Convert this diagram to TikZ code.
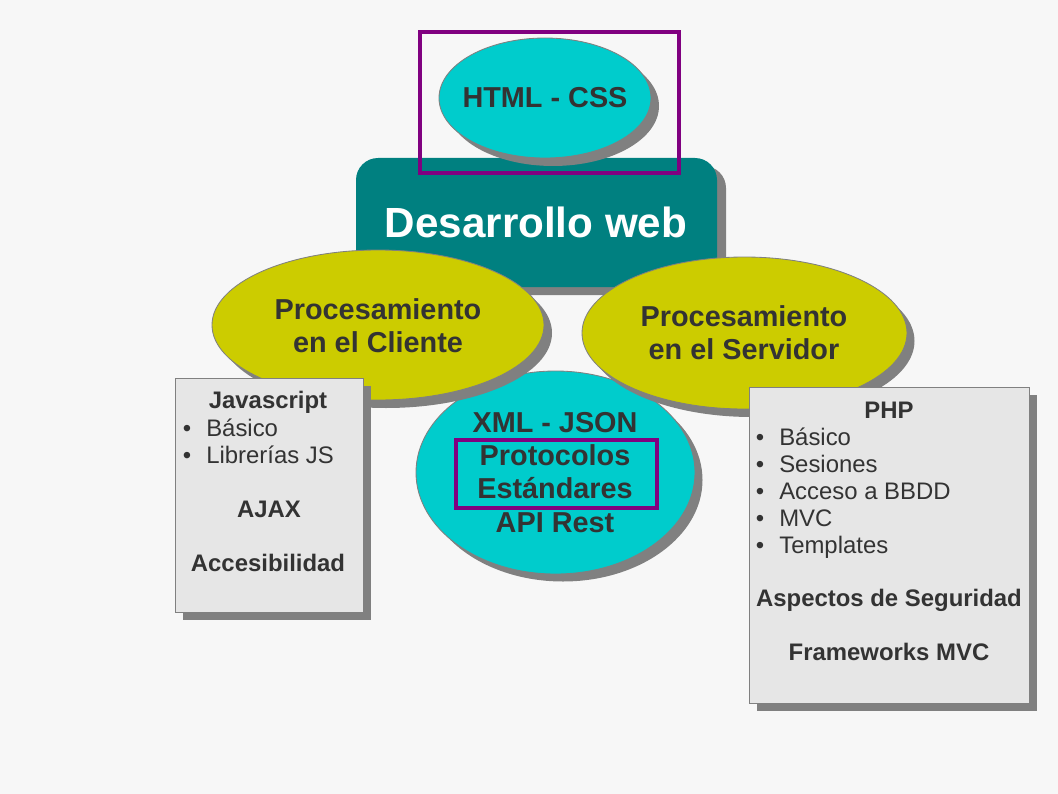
\documentclass[tikz,border=0pt]{standalone}
\usepackage{fontspec}
\setmainfont{Liberation Sans}
\usetikzlibrary{positioning}
\definecolor{wbback}{HTML}{F7F7F7}
\definecolor{wbcyan}{HTML}{00CCCC}
\definecolor{wbteal}{HTML}{008080}
\definecolor{wbolive}{HTML}{CCCC00}
\definecolor{wbbox}{HTML}{E6E6E6}
\definecolor{wbshadow}{HTML}{808080}
\definecolor{wbpurple}{HTML}{800080}
\definecolor{wbink}{HTML}{333333}

\begin{document}
\begin{tikzpicture}[x=0.025cm, y=-0.025cm,
  castshadow/.style={fill=wbshadow},
  oval/.style={draw=wbshadow, line width=0.6pt},
  frame/.style={draw=wbpurple, line width=2.8pt},
  bigtext/.style={font=\bfseries\fontsize{20.5}{23.5}\selectfont, text=wbink,
    align=center, anchor=base, inner sep=0pt},
  boxbold/.style={font=\bfseries\fontsize{17}{19.2}\selectfont, text=wbink,
    anchor=base, inner sep=0pt},
  boxitem/.style={font=\fontsize{17}{19.2}\selectfont, text=wbink,
    anchor=base west, inner sep=0pt}]

  % --- page ---
  \useasboundingbox (0,0) rectangle (1058,794);
  \fill[wbback] (0,0) rectangle (1058,794);

  % --- central block ---
  \fill[castshadow, rounded corners=0.55cm] (365,166) rectangle (726,295);
  \fill[wbteal, rounded corners=0.55cm] (356,158) rectangle (717,287);

  % --- top oval (HTML - CSS) ---
  \fill[castshadow] (553,106) ellipse (106 and 60);
  \filldraw[wbcyan, oval] (545,98) ellipse (106 and 60);
  \draw[frame] (420,32) rectangle (679,173);

  % --- middle oval ---
  \fill[castshadow] (563,480) ellipse (139.5 and 101.5);
  \filldraw[wbcyan, oval] (555.5,472.5) ellipse (139.5 and 101.5);

  % --- client / server ovals ---
  \fill[castshadow] (386,333) ellipse (166 and 75);
  \filldraw[wbolive, oval] (378,325) ellipse (166 and 75);
  \fill[castshadow] (752,341) ellipse (162.5 and 76);
  \filldraw[wbolive, oval] (744.5,333) ellipse (162.5 and 76);

  % --- side boxes ---
  \fill[castshadow] (183,386) rectangle (371,620);
  \filldraw[fill=wbbox, draw=wbshadow, line width=0.6pt] (175,378) rectangle (363,612);
  \fill[castshadow] (757,395) rectangle (1037,711);
  \filldraw[fill=wbbox, draw=wbshadow, line width=0.6pt] (749,387) rectangle (1029,703);

  % --- inner frame ---
  \draw[frame] (456,440) rectangle (657,508);

  % --- labels (base = last line) ---
  \node[bigtext] (html) at (545,108) {HTML - CSS};
  \node[anchor=base, inner sep=0pt, text=white,
    font=\bfseries\fontsize{30}{36}\selectfont] (dweb) at (536,237) {Desarrollo web};
  \node[bigtext, font=\bfseries\fontsize{20.5}{22.8}\selectfont] (cliente) at (378,352)
    {Procesamiento\\en el Cliente};
  \node[bigtext, font=\bfseries\fontsize{20.5}{22.8}\selectfont] (servidor) at (744,359)
    {Procesamiento\\en el Servidor};
  \node[bigtext] (xml) at (555,532)
    {XML - JSON\\Protocolos\\Estándares\\API Rest};

  % --- client box ---
  \node[boxbold] (js) at (268,408) {Javascript};
  \foreach \y/\lbl [count=\i] in {436/Básico, 463/Librerías JS}
  {
    \node[boxitem, anchor=base] (jsdot-\i) at (187,\y) {•};
    \node[boxitem] (js-\i) at (206,\y) {\lbl};
  }
  \node[boxbold] (ajax) at (269,517) {AJAX};
  \node[boxbold] (acc) at (268,571) {Accesibilidad};

  % --- server box ---
  \node[boxbold] (php) at (889,418) {PHP};
  \foreach \y/\lbl [count=\i] in {
    445/Básico,
    472/Sesiones,
    499/Acceso a BBDD,
    526/MVC,
    553/Templates}
  {
    \node[boxitem, anchor=base] (phpdot-\i) at (760,\y) {•};
    \node[boxitem] (php-\i) at (779,\y) {\lbl};
  }
  \node[boxbold] (seg) at (889,606) {Aspectos de Seguridad};
  \node[boxbold] (fw) at (889,660) {Frameworks MVC};

\end{tikzpicture}
\end{document}
